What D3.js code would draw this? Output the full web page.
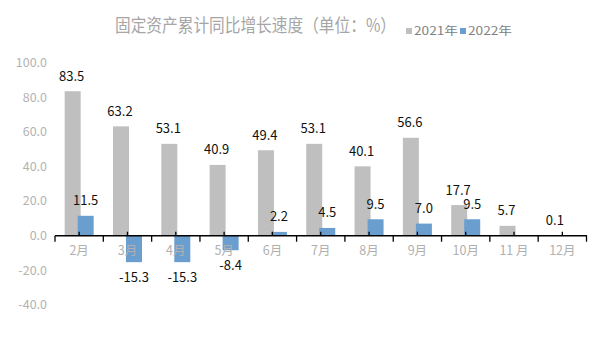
<!DOCTYPE html>
<html><head><meta charset="utf-8">
<script src="https://cdn.jsdelivr.net/npm/d3@7/dist/d3.min.js"></script>
<style>body{margin:0;background:#fff}svg{display:block}</style>
</head><body>
<svg id="c" width="608" height="352"></svg>
<script>
const categories = ["2月","3月","4月","5月","6月","7月","8月","9月","10月","11 月","12月"];
const series2021 = [83.5,63.2,53.1,40.9,49.4,53.1,40.1,56.6,17.7,5.7,0.1];
const series2022 = [11.5,-15.3,-15.3,-8.4,2.2,4.5,9.5,7.0,9.5,null,null];
const yTicks = [-40,-20,0,20,40,60,80,100];
const seriesNames = ["2021年","2022年"];
const colors = ["#bfbfbf","#6a9ecf"];
const title = "固定资产累计同比增长速度（单位：%）";

const svg = d3.select("#c");
const font = "'Noto Sans CJK SC','Microsoft YaHei',sans-serif";
const x = d3.scaleBand().domain(categories).range([55,586.5]).padding(0);
const y = d3.scaleLinear().domain([-40,100]).range([304.9,62.7]);
const bw = 16, off = 6.5;
const fmt = v => v.toFixed(1);

// y labels
svg.append("g").selectAll("text").data(yTicks).join("text")
  .attr("x",47).attr("y",d=>y(d)).attr("dy","0.35em").attr("text-anchor","end")
  .attr("font-family",font).attr("font-size",12.5).attr("fill","#b3b3b3")
  .text(fmt);

// bars 2021
svg.append("g").selectAll("rect").data(series2021).join("rect")
  .attr("x",(d,i)=>x(categories[i])+x.bandwidth()/2-off-bw/2)
  .attr("width",bw)
  .attr("y",d=>Math.min(y(d),y(0)))
  .attr("height",d=>Math.abs(y(d)-y(0)))
  .attr("fill",colors[0]);
// bars 2022
svg.append("g").selectAll("rect").data(series2022.map((v,i)=>({v,i})).filter(d=>d.v!=null)).join("rect")
  .attr("x",d=>x(categories[d.i])+x.bandwidth()/2+off-bw/2)
  .attr("width",bw)
  .attr("y",d=>Math.min(y(d.v),y(0)))
  .attr("height",d=>Math.abs(y(d.v)-y(0)))
  .attr("fill",colors[1]);

// axis
const ax = svg.append("g");
ax.append("line").attr("x1",55).attr("x2",587).attr("y1",y(0)).attr("y2",y(0))
  .attr("stroke","#000").attr("stroke-width",1.5);
const bounds = categories.map(c=>x(c)).concat([x.range()[1]]);
ax.selectAll("line.maj").data(bounds).join("line").attr("class","maj")
  .attr("x1",d=>d).attr("x2",d=>d).attr("y1",y(0)).attr("y2",y(0)+6)
  .attr("stroke","#000").attr("stroke-width",1.3);
ax.selectAll("line.min").data(categories).join("line").attr("class","min")
  .attr("x1",d=>x(d)+x.bandwidth()/2).attr("x2",d=>x(d)+x.bandwidth()/2)
  .attr("y1",y(0)).attr("y2",y(0)-4)
  .attr("stroke","#000").attr("stroke-width",1.3);
ax.selectAll("text").data(categories).join("text")
  .attr("x",d=>x(d)+x.bandwidth()/2).attr("y",251).attr("dy","0.35em")
  .attr("text-anchor","middle").attr("font-family",font).attr("font-size",12.5)
  .attr("fill","#b0b0b0").text(d=>d);

// data labels
function lab(arr, dx){
  svg.append("g").selectAll("text").data(arr.map((v,i)=>({v,i})).filter(d=>d.v!=null)).join("text")
    .attr("x",d=>x(categories[d.i])+x.bandwidth()/2+dx)
    .attr("y",d=>d.v>=0 ? y(d.v)-15 : y(d.v)+15)
    .attr("dy","0.35em").attr("text-anchor","middle")
    .attr("font-family",font).attr("font-size",13).attr("fill","#111")
    .text(d=>fmt(d.v));
}
lab(series2021,-off-1);
lab(series2022,off);

// title
svg.append("text").attr("x",255.5).attr("y",26).attr("dy","0.35em").attr("text-anchor","middle")
  .attr("font-family",font).attr("font-size",18).attr("fill","#a6a6a6")
  .attr("textLength",281).attr("lengthAdjust","spacingAndGlyphs").text(title);

// legend
const lg = svg.append("g");
const lx = [406,460];
seriesNames.forEach((n,i)=>{
  lg.append("rect").attr("x",lx[i]).attr("y",28).attr("width",6).attr("height",6).attr("fill",colors[i]);
  lg.append("text").attr("x",lx[i]+8).attr("y",31).attr("dy","0.35em")
    .attr("font-family",font).attr("font-size",11.5).attr("fill","#808080")
    .attr("textLength",44).attr("lengthAdjust","spacingAndGlyphs").text(n);
});
</script>
</body></html>
